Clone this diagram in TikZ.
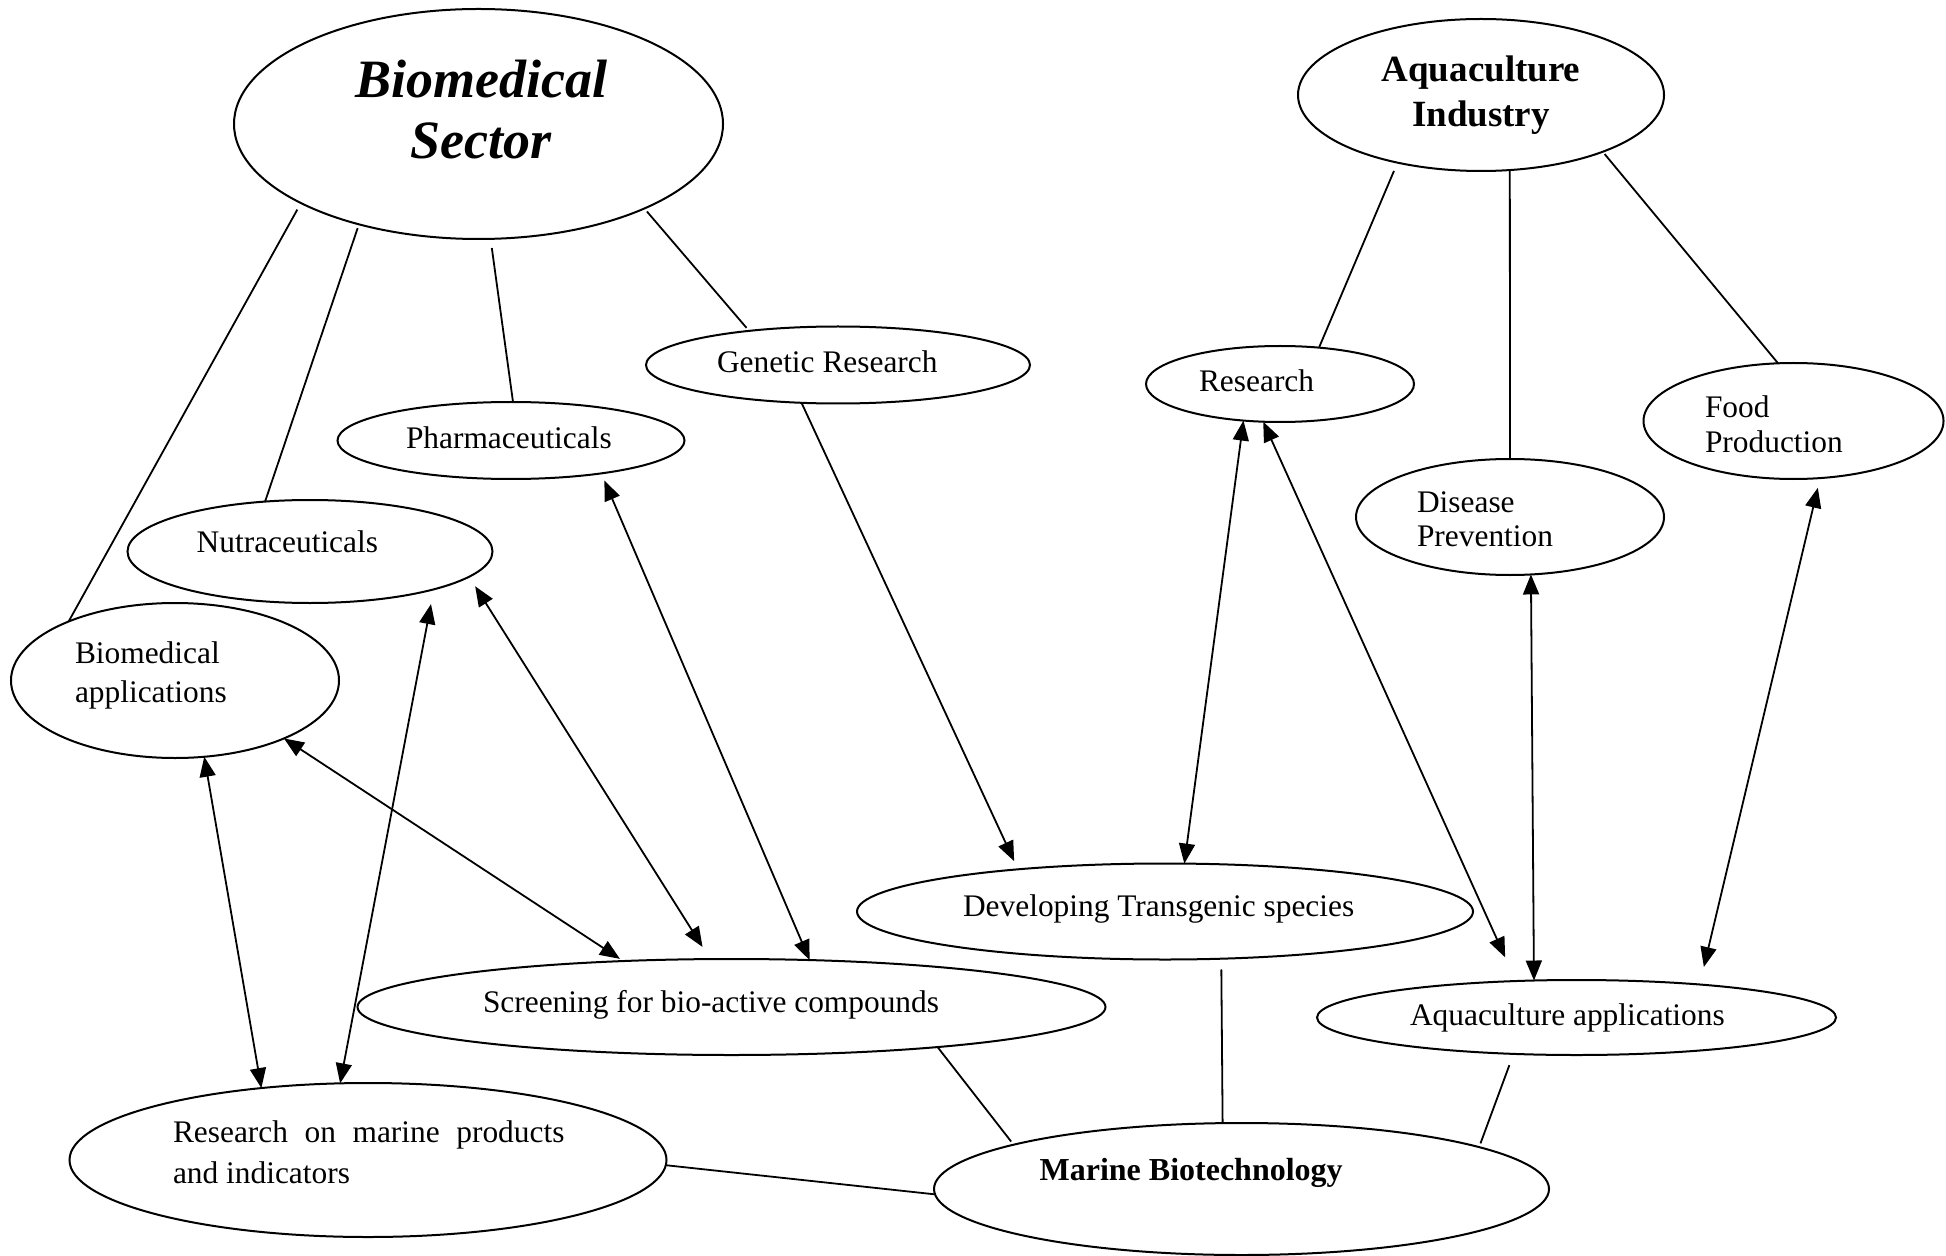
\documentclass[tikz,border=0pt]{standalone}
\usepackage{fontspec}
\setmainfont{Liberation Serif}
\usetikzlibrary{shapes.geometric,arrows.meta}
\begin{document}
\begin{tikzpicture}[x=0.5pt,y=-0.5pt,
  ell/.style={draw, ellipse, inner sep=0pt, outer sep=0pt, line width=1pt},
  lbl/.style={inner sep=0pt, outer sep=0pt, font=\fontsize{15.7}{19}\selectfont},
  conn/.style={line width=0.9pt},
  tipa/.style={Triangle[length=10pt,width=8pt]},
  arr/.style={conn, -{Triangle[length=10pt,width=8pt]}},
  darr/.style={conn, {Triangle[length=10pt,width=8pt]}-{Triangle[length=10pt,width=8pt]}}]
\useasboundingbox (0,0) rectangle (1946,1256);

% ellipses
\node[ell, minimum width=244.5pt, minimum height=115pt] (bs) at (478.5,124) {};
\node[ell, minimum width=183pt, minimum height=76pt] (ai) at (1481,95) {};
\node[ell, minimum width=192pt, minimum height=38.5pt] (gr) at (838,365) {};
\node[ell, minimum width=173.5pt, minimum height=38.5pt] (ph) at (511,440.5) {};
\node[ell, minimum width=182.5pt, minimum height=51.5pt] (nu) at (310,551.5) {};
\node[ell, minimum width=164pt, minimum height=77.5pt] (ba) at (175,680.5) {};
\node[ell, minimum width=134pt, minimum height=38pt] (re) at (1280,384) {};
\node[ell, minimum width=150pt, minimum height=58pt] (fp) at (1793.5,421) {};
\node[ell, minimum width=154pt, minimum height=58pt] (dp) at (1510,517) {};
\node[ell, minimum width=308pt, minimum height=48pt] (dt) at (1165,911.5) {};
\node[ell, minimum width=374pt, minimum height=48pt] (sc) at (731.5,1007) {};
\node[ell, minimum width=259.5pt, minimum height=37.5pt] (aa) at (1576.5,1017.5) {};
\node[ell, minimum width=298.5pt, minimum height=77pt] (rm) at (368,1160) {};
\node[ell, minimum width=307.5pt, minimum height=66pt] (mb) at (1241.5,1189) {};

% texts
\node[lbl, anchor=north, align=center, font=\fontsize{27}{30.5}\selectfont\bfseries\itshape] (bst) at (481,60) {Biomedical\\Sector};
\node[lbl, anchor=north, align=center, font=\fontsize{18.5}{22.75}\selectfont\bfseries] (ait) at (1481,55.7) {Aquaculture\\Industry};
\node[lbl, anchor=base west] (grt) at (717,372.5) {Genetic Research};
\node[lbl, anchor=base west] (pht) at (406,449) {Pharmaceuticals};
\node[lbl, anchor=base west] (nut) at (196.7,552.7) {Nutraceuticals};
\node[lbl, anchor=north west, align=left, font=\fontsize{15.7}{19.85}\selectfont] (bat) at (75,641.4) {Biomedical\\applications};
\node[lbl, anchor=base west] (ret) at (1199,392) {Research};
\node[lbl, anchor=north west, align=left, font=\fontsize{15.7}{17.5}\selectfont] (fpt) at (1705,395.6) {Food\\Production};
\node[lbl, anchor=north west, align=left, font=\fontsize{15.7}{17.3}\selectfont] (dpt) at (1417,491.6) {Disease\\Prevention};
\node[lbl, anchor=base west] (dtt) at (963,916) {Developing Transgenic species};
\node[lbl, anchor=base west] (sct) at (483,1012) {Screening for bio-active compounds};
\node[lbl, anchor=base west] (aat) at (1410,1025) {Aquaculture applications};
\node[lbl, anchor=north west, align=left, font=\fontsize{15.7}{20.5}\selectfont] (rmt) at (173,1120.3) {\makebox[195.75pt][s]{Research on marine products}\\and indicators};
\node[lbl, anchor=base west, font=\fontsize{16}{19}\selectfont\bfseries] (mbt) at (1039.6,1180) {Marine Biotechnology};

% plain connectors
\draw[conn, shorten <=3.75pt] (bs.204.9) -- (ba.151.3);
\draw[conn, shorten <=2pt] (bs.220.4) -- (nu.132.7);
\draw[conn, shorten <=4.6pt] (bs.276.4) -- (ph.87.7);
\draw[conn, shorten <=2pt, shorten >=2pt] (bs.333) -- (gr.159.4);
\draw[conn, shorten <=4.5pt] (ai.219) -- (re.43.9);
\draw[conn] (ai.291.1) -- (dp.90);
\draw[conn, shorten <=1.5pt] (ai.335.6) -- (fp.105.3);
\draw[conn, shorten >=2pt] (sc.349) -- (mb.169.1);
\draw[conn, shorten <=5.4pt] (dt.320.3) -- (mb.106.5);
\draw[conn, shorten <=6pt, shorten >=2pt] (aa.210.8) -- (mb.10.8);
\draw[conn] (rm.359.6) -- (mb.181.7);

% arrows
\draw[arr, shorten >=4.5pt] (gr.226.5) -- (dt.164.65);
\draw[darr, shorten <=3.9pt] (ph.340.9) -- (sc.31.3);
\draw[darr, shorten <=5.65pt, shorten >=7.15pt] (nu.351.1) -- (sc.114.6);
\draw[darr, shorten <=7.5pt] (nu.343.25) -- (rm.110.8);
\draw[darr, shorten >=2pt] (ba.332) -- (sc.157.3);
\draw[darr] (ba.291.9) -- (rm.146.6);
\draw[darr] (re.225.8) -- (dt.68.2);
\draw[darr, shorten >=13pt] (re.246.45) -- (aa.149.7);
\draw[darr] (dp.290.3) -- (aa.139.4);
\draw[darr, shorten <=5pt, shorten >=9pt] (fp.295.6) -- (aa.15);
\end{tikzpicture}
\end{document}
